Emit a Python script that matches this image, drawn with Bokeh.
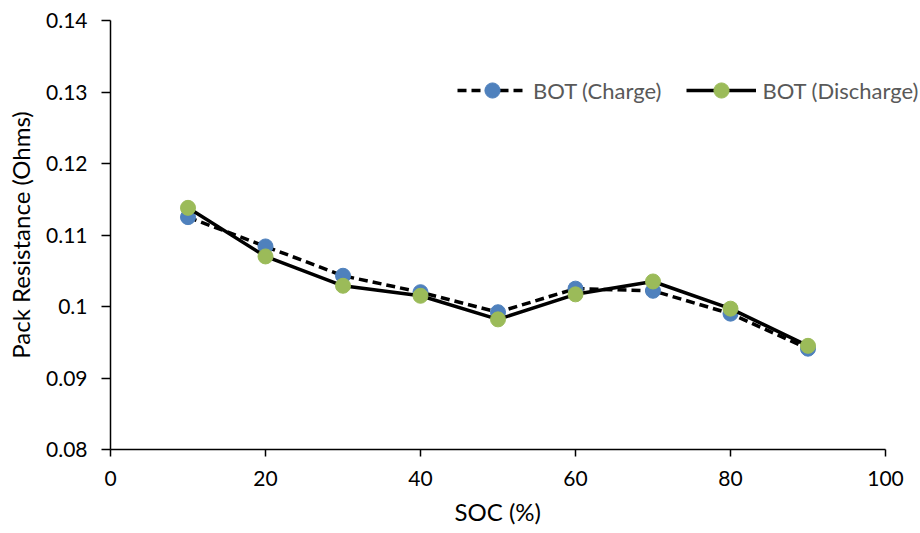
from bokeh.plotting import figure
from bokeh.models import (ColumnDataSource, Legend, LegendItem, FixedTicker,
                          CustomJSTickFormatter, Range1d, Title)
from bokeh.embed import file_html
from bokeh.resources import INLINE

# State of charge (%) at which pack resistance was measured
soc = [10, 20, 30, 40, 50, 60, 70, 80, 90]
# Pack resistance (Ohms), beginning of test
bot_charge = [0.1125, 0.1084, 0.1043, 0.1020, 0.0992, 0.1025, 0.1022, 0.0990, 0.0941]
bot_discharge = [0.1138, 0.1070, 0.1029, 0.1015, 0.0982, 0.1017, 0.1035, 0.0997, 0.0945]

x_ticks = [0, 20, 40, 60, 80, 100]
y_ticks = [0.08, 0.09, 0.10, 0.11, 0.12, 0.13, 0.14]

FONT = "Lato"
TICK_PX = "21px"
LEGEND_PX = "22px"
TITLE_PX = "24px"

# The frame runs to the right edge so the legend has room; the x axis itself
# stops at 100 through its bounds.
X_END = 100 * 810 / 775

src = ColumnDataSource(dict(soc=soc, chg=bot_charge, dis=bot_discharge))

p = figure(width=920, height=533, output_backend="svg", toolbar_location=None,
           x_range=Range1d(0, X_END), y_range=Range1d(0.08, 0.14),
           min_border_left=110, min_border_right=0,
           min_border_top=20, min_border_bottom=84)
p.outline_line_color = None
p.xgrid.visible = False
p.ygrid.visible = False
p.background_fill_color = "white"
p.border_fill_color = "white"

line_chg = p.line("soc", "chg", source=src, line_color="black", line_width=3.5,
                  line_dash="9 5")
dot_chg = p.scatter("soc", "chg", source=src, size=15, fill_color="#4F81BD",
                    line_color="#4F81BD")
line_dis = p.line("soc", "dis", source=src, line_color="black", line_width=3.5)
dot_dis = p.scatter("soc", "dis", source=src, size=15, fill_color="#9BBB59",
                    line_color="#9BBB59")

for ax in (p.xaxis[0], p.yaxis[0]):
    ax.axis_line_color = "black"
    ax.axis_line_width = 1.5
    ax.major_tick_line_color = "black"
    ax.major_tick_line_width = 1.5
    ax.major_tick_in = 0
    ax.minor_tick_line_color = None
    ax.major_label_text_font = FONT
    ax.major_label_text_font_size = TICK_PX
    ax.major_label_text_color = "black"
    ax.axis_label_text_font = FONT
    ax.axis_label_text_font_size = TITLE_PX
    ax.axis_label_text_font_style = "normal"
    ax.axis_label_text_color = "black"

p.xaxis.ticker = FixedTicker(ticks=x_ticks)
p.xaxis.bounds = (0, 100)
p.xaxis.major_tick_out = 7
p.xaxis.major_label_standoff = 14

p.yaxis.ticker = FixedTicker(ticks=y_ticks)
p.yaxis.formatter = CustomJSTickFormatter(code="return String(Number(tick.toFixed(2)));")
p.yaxis.major_tick_out = 9
p.yaxis.major_label_standoff = 14
p.yaxis.axis_label = "Pack Resistance (Ohms)"
p.yaxis.axis_label_standoff = 8

# x-axis title, set under the middle of the 0-100 axis span
p.add_layout(Title(text="SOC (%)", align="left", offset=344, standoff=13,
                   text_font=FONT, text_font_size=TITLE_PX,
                   text_font_style="normal", text_color="black"), "below")

legend = Legend(items=[
    LegendItem(label="BOT (Charge)", renderers=[line_chg, dot_chg]),
    LegendItem(label="BOT (Discharge)", renderers=[line_dis, dot_dis]),
], orientation="horizontal", location=(347, 340))
legend.glyph_width = 70
legend.glyph_height = 38
legend.label_standoff = 6
legend.spacing = 25
legend.padding = 0
legend.margin = 0
legend.border_line_color = None
legend.background_fill_alpha = 0
legend.label_text_font = FONT
legend.label_text_font_size = LEGEND_PX
legend.label_text_color = "#595959"
p.add_layout(legend, "center")

open("out.html", "w").write(file_html(p, INLINE))
